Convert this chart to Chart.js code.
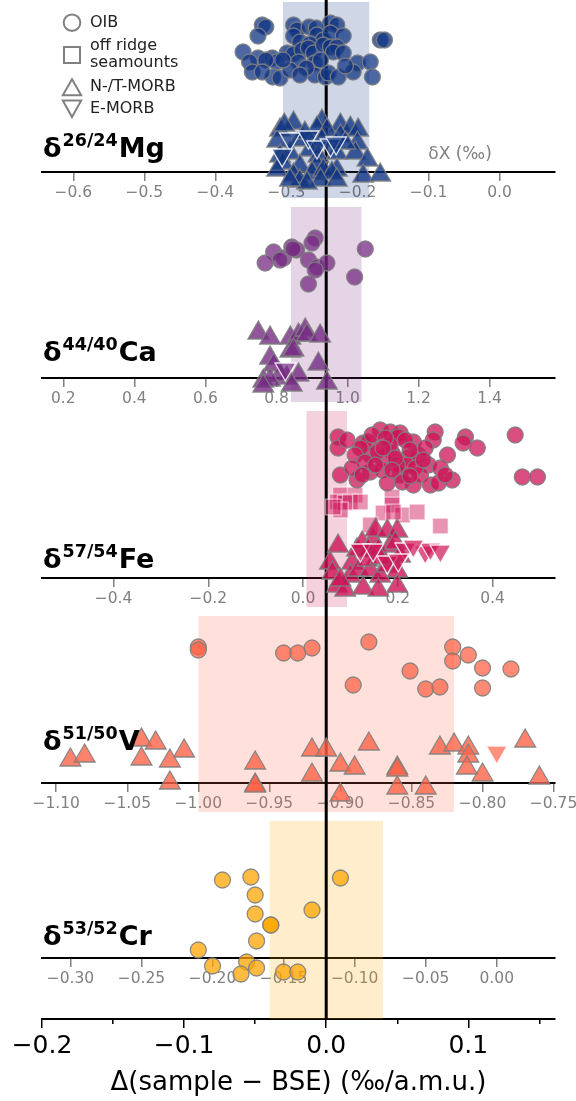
<!DOCTYPE html>
<html>
<head>
<meta charset="utf-8">
<script src="https://cdn.jsdelivr.net/npm/chart.js@4.4.0/dist/chart.umd.min.js"></script>
<style>
  html, body { margin: 0; padding: 0; background: #fff; }
  canvas { display: block; }
</style>
</head>
<body>
<canvas id="isoChart" width="576" height="1101"></canvas>
<script>
const FONT = '"DejaVu Sans", sans-serif';

// main axis: Δ(sample − BSE) per a.m.u.
const deltaRange = [-0.2, 0.161];
const deltaMajorTicks = [-0.2, -0.1, 0.0, 0.1];
const deltaMinorTicks = [-0.15, -0.05, 0.05, 0.15];

// panels, top to bottom
const panelElement = ['Mg', 'Ca', 'Fe', 'V', 'Cr'];
const panelRatio = ['26/24', '44/40', '57/54', '51/50', '53/52'];
const panelAmu = [2, 4, 3, 1, 1];
const panelBSE = [-0.244, 0.94, 0.049, -0.91, -0.12];
const panelBand = [[-0.305, -0.183], [0.84, 1.04], [0.007, 0.093], [-1.0, -0.82], [-0.16, -0.08]];
const panelTicks = [
  [-0.6, -0.5, -0.4, -0.3, -0.2, -0.1, 0.0],
  [0.2, 0.4, 0.6, 0.8, 1.0, 1.2, 1.4],
  [-0.4, -0.2, 0.0, 0.2, 0.4],
  [-1.10, -1.05, -1.00, -0.95, -0.90, -0.85, -0.80, -0.75],
  [-0.30, -0.25, -0.20, -0.15, -0.10, -0.05, 0.00]
];
const panelDecimals = [1, 1, 1, 2, 2];

// samples: [δ value (‰), vertical jitter above the panel axis]
const mgOIB = [
  [-0.334,14.7],[-0.329,14.5],[-0.290,14.7],[-0.285,14.2],[-0.268,14.5],[-0.238,14.9],[-0.229,14.7],[-0.258,14.4],
  [-0.340,13.6],[-0.290,13.6],[-0.257,13.7],[-0.248,13.2],[-0.238,13.9],[-0.220,13.6],[-0.168,13.2],[-0.162,13.2],
  [-0.281,13.0],[-0.267,12.8],[-0.361,12.0],[-0.340,11.4],[-0.320,11.4],[-0.299,11.9],[-0.290,11.8],[-0.278,12.2],
  [-0.269,12.4],[-0.262,11.9],[-0.248,12.7],[-0.238,12.5],[-0.229,12.5],[-0.234,12.0],[-0.220,11.9],[-0.314,11.0],
  [-0.329,11.2],[-0.283,11.0],[-0.260,10.9],[-0.200,10.9],[-0.182,11.0],[-0.352,11.0],[-0.348,10.0],[-0.319,9.5],
  [-0.309,9.4],[-0.295,10.2],[-0.260,9.7],[-0.245,9.5],[-0.241,9.9],[-0.227,9.5],[-0.206,10.0],[-0.179,9.5],
  [-0.334,10.0],[-0.272,10.4],[-0.252,11.2],[-0.217,10.6],[-0.281,9.7],[-0.305,11.2]
];
const mgNMORB = [
  [-0.290,5.2],[-0.250,5.4],[-0.224,5.0],[-0.309,4.5],[-0.257,4.7],[-0.243,4.5],[-0.210,4.7],[-0.199,4.5],
  [-0.281,3.5],[-0.313,3.4],[-0.250,3.5],[-0.224,3.9],[-0.200,3.2],[-0.309,1.9],[-0.295,2.2],[-0.267,2.5],
  [-0.255,1.9],[-0.229,2.2],[-0.203,2.2],[-0.186,1.5],[-0.305,1.2],[-0.313,0.5],[-0.281,0.9],[-0.257,1.0],
  [-0.229,0.5],[-0.290,0.0],[-0.264,0.2],[-0.248,0.5],[-0.236,0.2],[-0.192,-0.1],[-0.168,0.0],[-0.281,-0.6],
  [-0.252,-0.5],[-0.229,-0.5],[-0.271,-0.8],[-0.295,-0.5],[-0.303,5.0],[-0.274,4.2],[-0.217,3.2]
];
const mgEMORB = [[-0.295,3.0],[-0.269,3.2],[-0.257,2.2],[-0.238,2.4],[-0.230,2.6],[-0.306,1.4]];

const caOIB = [
  [0.909,14.0],[0.900,13.5],[0.843,13.1],[0.857,12.8],[0.792,12.6],[0.820,12.0],[0.810,11.8],[0.768,11.5],
  [0.890,11.8],[0.914,11.1],[0.942,11.5],[0.909,10.8],[1.050,12.9],[1.020,10.1],[0.890,9.4],[0.847,12.9]
];
const caNMORB = [
  [0.749,4.8],[0.782,4.3],[0.839,4.3],[0.862,4.6],[0.881,5.1],[0.886,4.6],[0.923,4.5],[0.782,2.3],
  [0.839,3.0],[0.848,3.1],[0.792,1.6],[0.918,1.7],[0.862,0.6],[0.829,0.3],[0.810,0.6],[0.763,0.0],
  [0.782,0.1],[0.843,-0.4],[0.763,-0.5],[0.942,-0.2]
];
const caEMORB = [[0.825,0.6]];

const feOIB = [
  [0.074,14.1],[0.074,13.0],[0.079,10.3],[0.114,9.8],[0.127,13.5],[0.138,13.6],[0.163,14.8],[0.184,14.6],
  [0.205,14.5],[0.201,14.1],[0.233,13.6],[0.142,12.3],[0.167,12.0],[0.188,12.5],[0.222,12.0],[0.243,12.3],
  [0.265,11.3],[0.142,10.6],[0.167,10.8],[0.178,9.5],[0.205,10.3],[0.233,9.3],[0.248,10.3],[0.269,9.3],
  [0.286,9.5],[0.315,9.8],[0.279,14.6],[0.275,13.8],[0.305,12.3],[0.343,14.1],[0.338,13.5],[0.368,13.0],
  [0.448,14.3],[0.463,10.1],[0.495,10.1],[0.121,13.0],[0.184,13.3],[0.220,11.3],[0.199,11.3],[0.157,12.6],
  [0.146,14.3],[0.174,14.0],[0.216,13.8],[0.110,12.3],[0.131,11.6],[0.195,12.0],[0.226,12.8],[0.258,13.0],
  [0.153,11.3],[0.188,10.8],[0.237,11.0],[0.290,11.0],[0.093,13.8],[0.104,11.0],[0.125,10.3],[0.210,9.6],
  [0.300,10.3],[0.254,11.8],[0.169,13.0],[0.226,10.2]
];
const feSeamounts = [
  [0.079,8.3],[0.110,8.3],[0.072,7.6],[0.089,7.5],[0.100,7.6],[0.121,7.6],[0.079,6.8],[0.188,8.1],
  [0.188,7.3],[0.169,6.5],[0.210,6.3],[0.241,6.6],[0.142,5.3],[0.290,5.2],[0.191,6.6],[0.064,7.1]
];
const feNMORB = [
  [0.074,3.5],[0.057,1.8],[0.062,0.8],[0.072,-0.5],[0.104,1.8],[0.114,3.1],[0.125,3.8],[0.148,4.1],
  [0.153,5.1],[0.178,5.0],[0.199,5.0],[0.138,3.1],[0.159,3.1],[0.184,3.5],[0.195,3.8],[0.205,2.5],
  [0.100,0.5],[0.117,1.1],[0.142,1.1],[0.163,0.5],[0.178,1.5],[0.199,1.0],[0.089,-0.9],[0.127,-0.7],
  [0.159,-0.9],[0.199,-0.5],[0.079,0.1],[0.136,2.1],[0.163,2.3]
];
const feEMORB = [[0.216,2.6],[0.258,2.3],[0.269,2.6],[0.290,2.4],[0.178,1.3],[0.201,1.5],[0.121,2.5],[0.148,2.5],[0.233,2.9]];

const vOIB = [
  [-1.000,13.6],[-1.000,13.3],[-0.940,13.0],[-0.930,13.0],[-0.920,13.5],[-0.880,14.1],[-0.891,9.8],[-0.851,11.2],
  [-0.840,9.4],[-0.830,9.6],[-0.821,13.6],[-0.821,12.2],[-0.810,12.8],[-0.800,11.5],[-0.800,9.5],[-0.780,11.4]
];
const vNMORB = [
  [-1.090,2.6],[-1.080,3.0],[-1.040,4.6],[-1.030,4.3],[-1.040,2.7],[-1.020,2.5],[-1.010,3.5],[-1.020,0.3],
  [-0.960,2.3],[-0.960,0.1],[-0.960,0.0],[-0.920,3.6],[-0.910,3.6],[-0.920,1.1],[-0.900,2.1],[-0.890,1.8],
  [-0.880,4.2],[-0.900,-0.9],[-0.860,1.8],[-0.860,1.6],[-0.860,-0.2],[-0.840,-0.2],[-0.830,3.8],[-0.820,4.1],
  [-0.810,3.8],[-0.810,3.0],[-0.811,1.8],[-0.800,1.1],[-0.770,4.5],[-0.760,0.8]
];
const vEMORB = [[-0.790,2.8]];

const crOIB = [
  [-0.193,7.8],[-0.173,8.1],[-0.170,6.3],[-0.170,4.4],[-0.159,3.3],[-0.159,3.3],[-0.169,1.7],[-0.210,0.8],
  [-0.200,-0.8],[-0.176,-0.4],[-0.169,-1.0],[-0.180,-1.6],[-0.150,-1.4],[-0.140,-1.4],[-0.130,4.8],[-0.110,8.0]
];

const panelSamples = [
  { emorb: mgEMORB, nmorb: mgNMORB, oib: mgOIB },
  { emorb: caEMORB, nmorb: caNMORB, oib: caOIB },
  { emorb: feEMORB, nmorb: feNMORB, oib: feOIB, smt: feSeamounts },
  { emorb: vEMORB, nmorb: vNMORB, oib: vOIB },
  { oib: crOIB }
];

// layout, in units of the hidden vertical axis
const yTop = 101.9;
const panelBase = [84.7, 64.1, 44.1, 23.6, 6.1];
const bandSpan = [[-2.6, 17.0], [-2.4, 17.1], [-2.9, 16.7], [-2.9, 16.7], [-6.1, 13.7]];
const labelRise = [1.5, 1.7, 1.0, 3.3, 1.3];
const panelRGB = ['16,52,131', '118,42,131', '206,18,86', '255,99,71', '255,165,0'];

const kindStyle = {
  emorb: { shape: 'triangle', r: 12, alpha: 0.7, edge: 'rgba(255,255,255,0.85)', rot: 180, shift: 0.3 },
  nmorb: { shape: 'triangle', r: 12, alpha: 0.8, edge: 'rgba(128,128,128,0.9)', rot: 0, shift: -0.3 },
  oib:   { shape: 'circle', r: 8, alpha: 0.75, edge: 'rgba(128,128,128,0.9)', rot: 0, shift: 0 },
  smt:   { shape: 'rect', r: 11, alpha: 0.45, edge: 'rgba(255,255,255,0.55)', rot: 0, shift: 0 }
};

function fmt(v, d) {
  const s = Math.abs(v).toFixed(d);
  return (v < -1e-9 ? '\u2212' : '') + s;
}

const datasets = [];

// sample points (earlier datasets are drawn on top)
panelSamples.forEach((groups, i) => {
  ['emorb', 'nmorb', 'oib', 'smt'].forEach(kind => {
    if (!groups[kind]) return;
    const st = kindStyle[kind];
    datasets.push({
      type: 'scatter',
      xAxisID: 'x' + panelElement[i],
      data: groups[kind].map(p => ({ x: p[0], y: panelBase[i] + p[1] + st.shift })),
      pointStyle: st.shape,
      pointRadius: st.r,
      pointRotation: st.rot,
      pointBackgroundColor: 'rgba(' + panelRGB[i] + ',' + st.alpha + ')',
      pointBorderColor: st.edge,
      pointBorderWidth: 1.3,
      order: 1
    });
  });
});

// BSE reference line
datasets.push({
  type: 'line',
  xAxisID: 'x',
  data: [{ x: 0, y: 0 }, { x: 0, y: yTop }],
  borderColor: '#000',
  borderWidth: 3,
  pointRadius: 0,
  fill: false,
  order: 5
});

// BSE bands
panelBand.forEach((b, i) => {
  datasets.push({
    type: 'line',
    xAxisID: 'x' + panelElement[i],
    data: [{ x: b[0], y: panelBase[i] + bandSpan[i][1] }, { x: b[1], y: panelBase[i] + bandSpan[i][1] }],
    borderColor: 'rgba(0,0,0,0)',
    borderWidth: 0,
    pointRadius: 0,
    backgroundColor: 'rgba(' + panelRGB[i] + ',0.2)',
    fill: { value: panelBase[i] + bandSpan[i][0] },
    order: 10
  });
});

// panel axes sit inside the plot, so their labels must not shrink it
const noPadding = s => { s.paddingLeft = 0; s.paddingRight = 0; s.paddingTop = 0; s.paddingBottom = 0; };

const scales = {
  y: { type: 'linear', min: 0, max: yTop, display: false },
  x: {
    type: 'linear', position: 'bottom',
    min: deltaRange[0], max: deltaRange[1],
    afterBuildTicks: s => { s.ticks = deltaMajorTicks.map(v => ({ value: v })); },
    afterFit: s => { s.height = 82; },
    ticks: { color: '#000', font: { family: FONT, size: 25 }, padding: 3, maxRotation: 0, autoSkip: false, callback: v => fmt(v, 1) },
    grid: { drawOnChartArea: false, color: '#000', lineWidth: 1.5, tickLength: 9 },
    border: { color: '#000', width: 2 },
    title: { display: true, text: 'Δ(sample − BSE) (‰/a.m.u.)', color: '#000', font: { family: FONT, size: 26 }, padding: { top: 0, bottom: 2 } }
  },
  xMinor: {
    type: 'linear', axis: 'x', position: { y: 0 },
    min: deltaRange[0], max: deltaRange[1],
    afterBuildTicks: s => { s.ticks = deltaMinorTicks.map(v => ({ value: v })); },
    afterFit: noPadding,
    ticks: { display: false },
    grid: { drawOnChartArea: false, color: '#000', lineWidth: 1.5, tickLength: 5 },
    border: { display: false }
  }
};

panelElement.forEach((el, i) => {
  scales['x' + el] = {
    type: 'linear', axis: 'x',
    position: { y: panelBase[i] },
    min: panelBSE[i] + panelAmu[i] * deltaRange[0],
    max: panelBSE[i] + panelAmu[i] * deltaRange[1],
    afterBuildTicks: s => { s.ticks = panelTicks[i].map(v => ({ value: v })); },
    afterFit: noPadding,
    ticks: { color: '#808080', font: { family: FONT, size: 15.5 }, padding: 4, maxRotation: 0, autoSkip: false, callback: v => fmt(v, panelDecimals[i]) },
    grid: { drawOnChartArea: false, color: '#808080', lineWidth: 1.5, tickLength: 8 },
    border: { color: '#000', width: 2 }
  };
});

function legendMarker(ctx, shape, x, y) {
  ctx.beginPath();
  if (shape === 'circle') {
    ctx.arc(x, y, 8.3, 0, Math.PI * 2);
  } else if (shape === 'rect') {
    ctx.rect(x - 8, y - 8, 16, 16);
  } else if (shape === 'up') {
    ctx.moveTo(x, y - 8); ctx.lineTo(x + 9.2, y + 8); ctx.lineTo(x - 9.2, y + 8); ctx.closePath();
  } else {
    ctx.moveTo(x, y + 8.3); ctx.lineTo(x + 9.2, y - 8.3); ctx.lineTo(x - 9.2, y - 8.3); ctx.closePath();
  }
  ctx.stroke();
}

const textPlugin = {
  id: 'panelText',
  afterDraw(chart) {
    const { ctx, chartArea, scales } = chart;
    const ys = scales.y;
    ctx.save();
    ctx.textAlign = 'left';

    // panel labels
    panelElement.forEach((el, i) => {
      let x = chartArea.left + 1;
      const base = ys.getPixelForValue(panelBase[i] + labelRise[i]);
      ctx.fillStyle = '#000';
      ctx.textBaseline = 'alphabetic';
      ctx.font = 'bold 27px ' + FONT;
      ctx.fillText('δ', x, base);
      x += ctx.measureText('δ').width + 1;
      ctx.font = 'bold 17.5px ' + FONT;
      ctx.fillText(panelRatio[i], x, base - 11);
      x += ctx.measureText(panelRatio[i]).width + 1;
      ctx.font = 'bold 27px ' + FONT;
      ctx.fillText(el, x, base);
    });

    // axis note
    ctx.fillStyle = '#808080';
    ctx.font = '17px ' + FONT;
    ctx.textAlign = 'center';
    ctx.textBaseline = 'middle';
    ctx.fillText('δX (‰)', chartArea.left + 418, ys.getPixelForValue(panelBase[0] + 1.7));

    // legend
    const lx = chartArea.left + 30;
    const tx = chartArea.left + 48;
    const top = chartArea.top;
    ctx.strokeStyle = '#808080';
    ctx.lineWidth = 2;
    legendMarker(ctx, 'circle', lx, top + 22.7);
    legendMarker(ctx, 'rect', lx, top + 55);
    legendMarker(ctx, 'up', lx, top + 87.3);
    legendMarker(ctx, 'down', lx, top + 108.8);
    ctx.fillStyle = '#222';
    ctx.font = '16px ' + FONT;
    ctx.textAlign = 'left';
    ctx.fillText('OIB', tx, top + 22.7);
    ctx.fillText('off ridge', tx, top + 46);
    ctx.fillText('seamounts', tx, top + 63);
    ctx.fillText('N-/T-MORB', tx, top + 87);
    ctx.fillText('E-MORB', tx, top + 109.3);
    ctx.restore();
  }
};

new Chart(document.getElementById('isoChart').getContext('2d'), {
  type: 'scatter',
  data: { datasets },
  options: {
    responsive: false,
    animation: false,
    events: [],
    layout: { autoPadding: false, padding: { left: 42, right: 21, top: 0, bottom: 0 } },
    plugins: { legend: { display: false }, tooltip: { enabled: false } },
    scales
  },
  plugins: [textPlugin]
});
</script>
</body>
</html>
